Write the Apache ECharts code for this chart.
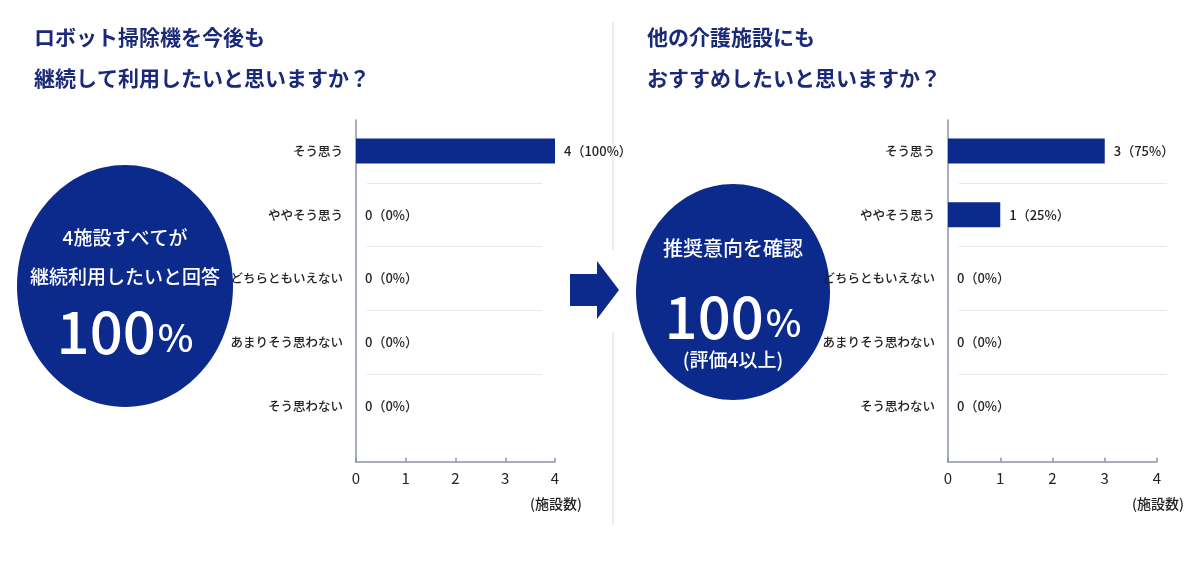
<!DOCTYPE html>
<html>
<head>
<meta charset="utf-8">
<script src="https://cdn.jsdelivr.net/npm/echarts@6/dist/echarts.min.js"></script>
<style>
  html, body { margin: 0; padding: 0; background: #ffffff; }
  #main { width: 1198px; height: 570px; }
</style>
</head>
<body>
<div id="main"></div>
<script>
// answer choices (same for both questions)
var categories = ['そう思う', 'ややそう思う', 'どちらともいえない', 'あまりそう思わない', 'そう思わない'];
// number of facilities per answer
var continueCounts = [4, 0, 0, 0, 0];
var recommendCounts = [3, 1, 0, 0, 0];
var axisTicks = [0, 1, 2, 3, 4];

var navy = '#0c2a8c';
var titleColor = '#1b2a78';
var font = 'Noto Sans CJK JP';

var chart = echarts.init(document.getElementById('main'), null, {renderer: 'canvas'});

function sum(arr) {
    return arr.reduce(function (a, b) { return a + b; }, 0);
}

function barLabel(counts) {
    var total = sum(counts);
    return function (p) {
        return p.value + '（' + Math.round(p.value / total * 100) + '%）';
    };
}

// bar grid: category axis + bottom value axis pushed down
function catAxis(idx) {
    return {
        type: 'category', gridIndex: idx, inverse: true, data: categories,
        axisLine: {show: false}, axisTick: {show: false},
        axisLabel: {margin: 13, color: '#222', fontSize: 12.5, fontWeight: 500, fontFamily: font}
    };
}
function valAxis(idx) {
    return {
        type: 'value', gridIndex: idx, min: axisTicks[0], max: axisTicks[axisTicks.length - 1], interval: 1,
        offset: 24,
        axisLine: {show: true, lineStyle: {color: '#8b93a5', width: 1.5}},
        axisTick: {show: true, inside: true, length: 4, lineStyle: {color: '#8b93a5', width: 1.5}},
        axisLabel: {margin: 9, color: '#222', fontSize: 15, fontFamily: font},
        splitLine: {show: false},
        name: '(施設数)', nameLocation: 'end', nameGap: 1,
        nameTextStyle: {align: 'center', verticalAlign: 'top', padding: [35, 0, 0, 0], color: '#222', fontSize: 14, fontWeight: 500, fontFamily: font}
    };
}
// frame grid: only the vertical axis line down to the x axis
function frameY(idx) {
    return {
        type: 'value', gridIndex: idx, min: 0, max: 1,
        axisLine: {show: true, lineStyle: {color: '#8b93a5', width: 1.5}},
        axisTick: {show: false}, axisLabel: {show: false}, splitLine: {show: false}
    };
}
function hiddenX(idx) {
    return {type: 'value', gridIndex: idx, min: 0, max: 1, show: false, splitLine: {show: false}};
}
// separator grid: thin lines between answer rows
function sepY(idx) {
    return {
        type: 'category', gridIndex: idx, data: ['', '', ''],
        axisLine: {show: false}, axisTick: {show: false}, axisLabel: {show: false},
        splitLine: {show: true, interval: 0, lineStyle: {color: '#e4e7ee', width: 1}}
    };
}

function barSeries(idx, counts) {
    return {
        type: 'bar', xAxisIndex: idx, yAxisIndex: idx, data: counts,
        barWidth: 25, itemStyle: {color: navy},
        label: {show: true, position: 'right', distance: 9, color: '#222', fontSize: 13, fontWeight: 500, fontFamily: font,
            formatter: barLabel(counts)},
        silent: true
    };
}

var option = {
    backgroundColor: '#ffffff',
    animation: false,
    textStyle: {fontFamily: font},
    title: [
        {text: 'ロボット掃除機を今後も\n継続して利用したいと思いますか？', left: 29, top: 12,
            textStyle: {fontSize: 21, fontWeight: 'bold', color: titleColor, lineHeight: 41, fontFamily: font}},
        {text: '他の介護施設にも\nおすすめしたいと思いますか？', left: 642, top: 12,
            textStyle: {fontSize: 21, fontWeight: 'bold', color: titleColor, lineHeight: 41, fontFamily: font}}
    ],
    grid: [
        {left: 356, width: 199, top: 119.2, height: 318.5},
        {left: 356, width: 199, top: 120, height: 342},
        {left: 367, width: 175, top: 182.9, height: 191.1},
        {left: 948, width: 209, top: 119.2, height: 318.5},
        {left: 948, width: 209, top: 120, height: 342},
        {left: 959, width: 208, top: 182.9, height: 191.1}
    ],
    xAxis: [valAxis(0), hiddenX(1), hiddenX(2), valAxis(3), hiddenX(4), hiddenX(5)],
    yAxis: [catAxis(0), frameY(1), sepY(2), catAxis(3), frameY(4), sepY(5)],
    series: [barSeries(0, continueCounts), barSeries(3, recommendCounts)],
    graphic: [
        // divider, broken around the arrow
        {type: 'line', shape: {x1: 613, y1: 22, x2: 613, y2: 250}, style: {stroke: '#e3e6ec', lineWidth: 1.5}},
        {type: 'line', shape: {x1: 613, y1: 332, x2: 613, y2: 525}, style: {stroke: '#e3e6ec', lineWidth: 1.5}},
        // arrow
        {type: 'polygon', shape: {points: [[570, 274], [597, 274], [597, 261], [619, 290], [597, 319], [597, 306], [570, 306]]},
            style: {fill: navy}},
        // left summary
        {type: 'ellipse', shape: {cx: 125, cy: 286, rx: 108, ry: 121}, style: {fill: navy}},
        {type: 'text', x: 125, y: 238, style: {text: '4施設すべてが', fill: '#fff', font: '500 19px "Noto Sans CJK JP"', align: 'center', verticalAlign: 'middle'}},
        {type: 'text', x: 125, y: 277, style: {text: '継続利用したいと回答', fill: '#fff', font: '500 19px "Noto Sans CJK JP"', align: 'center', verticalAlign: 'middle'}},
        {type: 'text', x: 125, y: 332, style: {text: '{a|100}{b|%}', align: 'center', verticalAlign: 'middle',
            rich: {a: {fill: '#fff', fontSize: 58, fontWeight: 500, fontFamily: font},
                   b: {fill: '#fff', fontSize: 38, fontWeight: 500, fontFamily: font, padding: [12, 0, 0, 2]}}}},
        // right summary
        {type: 'ellipse', shape: {cx: 733, cy: 292, rx: 97, ry: 108}, style: {fill: navy}},
        {type: 'text', x: 733, y: 248, style: {text: '推奨意向を確認', fill: '#fff', font: '500 20px "Noto Sans CJK JP"', align: 'center', verticalAlign: 'middle'}},
        {type: 'text', x: 733, y: 317, style: {text: '{a|100}{b|%}', align: 'center', verticalAlign: 'middle',
            rich: {a: {fill: '#fff', fontSize: 58, fontWeight: 500, fontFamily: font},
                   b: {fill: '#fff', fontSize: 38, fontWeight: 500, fontFamily: font, padding: [12, 0, 0, 2]}}}},
        {type: 'text', x: 733, y: 360, style: {text: '(評価4以上)', fill: '#fff', font: '500 19px "Noto Sans CJK JP"', align: 'center', verticalAlign: 'middle'}}
    ]
};

chart.setOption(option);
</script>
</body>
</html>
